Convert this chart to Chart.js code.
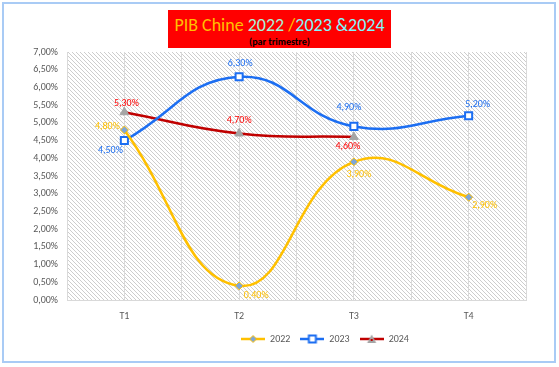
<!DOCTYPE html>
<html>
<head>
    <title>PIB Chine 2022 /2023 &2024</title>
    <script src="https://cdn.jsdelivr.net/npm/chart.js"></script>
    <style>
        body { margin: 0; background: #fff; }
        .wrap { position: relative; width: 559px; height: 367px; overflow: hidden; }
        .frame {
            position: absolute; left: 2px; top: 2px; width: 554px; height: 361px;
            box-sizing: border-box; border: 2px solid #a9cbf5; pointer-events: none;
        }
        .title {
            position: absolute; left: 168px; top: 10px; width: 223px; height: 38px;
            background: #ff0000; text-align: center; font-family: Carlito, Lato, sans-serif;
        }
        .title .main { font-size: 18px; line-height: 22px; padding-top: 4px; }
        .title .sub { font-size: 10px; font-weight: bold; color: #000; line-height: 11px; }
    </style>
</head>
<body>
<div class="wrap">
    <canvas id="gdpChart" width="559" height="367"></canvas>
    <div class="title">
        <div class="main"><span style="color:#ffc000">PIB Chine </span><span style="color:#a6f4dc">2022 </span><span style="color:#ffc000">/</span><span style="color:#7ff9ff">2023 &amp;2024</span></div>
        <div class="sub">(par trimestre)</div>
    </div>
    <div class="frame"></div>
</div>
<script>
    const quarters = ['T1', 'T2', 'T3', 'T4'];
    const gdp2022 = [4.8, 0.4, 3.9, 2.9];
    const gdp2023 = [4.5, 6.3, 4.9, 5.2];
    const gdp2024 = [5.3, 4.7, 4.6, null];

    const FONT = 'Carlito, Lato, sans-serif';

    // where each value label sits relative to its point (dx, dy)
    const labelOffsets = {
        '2022': [[-17, -3], [17, 10], [5, 13], [16, 8]],
        '2023': [[-14, 10], [1, -13], [-5, -19], [9, -11]],
        '2024': [[2, -9], [0, -13], [-6, 9], null]
    };

    function fmtPct(v) {
        return v.toFixed(2).replace('.', ',') + '%';
    }

    function toPoints(values) {
        return values.map((v, i) => ({ x: i + 1, y: v }));
    }

    function makeLegendIcon(color, draw) {
        const c = document.createElement('canvas');
        c.width = 24; c.height = 10;
        const ctx = c.getContext('2d');
        ctx.strokeStyle = color;
        ctx.lineWidth = 2.5;
        ctx.beginPath(); ctx.moveTo(0, 5); ctx.lineTo(24, 5); ctx.stroke();
        draw(ctx);
        return c;
    }

    const icons = {
        '2022': makeLegendIcon('#ffc000', ctx => {
            ctx.fillStyle = '#7ea6d8'; ctx.strokeStyle = '#ffc000'; ctx.lineWidth = 1;
            ctx.beginPath(); ctx.moveTo(12, 1.5); ctx.lineTo(15.5, 5); ctx.lineTo(12, 8.5); ctx.lineTo(8.5, 5); ctx.closePath();
            ctx.fill(); ctx.stroke();
        }),
        '2023': makeLegendIcon('#1c6ef2', ctx => {
            ctx.fillStyle = '#fff'; ctx.strokeStyle = '#1c6ef2'; ctx.lineWidth = 2;
            ctx.fillRect(8.5, 1.5, 7, 7); ctx.strokeRect(8.5, 1.5, 7, 7);
        }),
        '2024': makeLegendIcon('#c00000', ctx => {
            ctx.fillStyle = '#a5a5a5';
            ctx.beginPath(); ctx.moveTo(12, 0.5); ctx.lineTo(16.5, 9); ctx.lineTo(7.5, 9); ctx.closePath();
            ctx.fill();
            ctx.fillStyle = '#c00000'; ctx.fillRect(11, 5, 2, 2);
        })
    };

    function hatchPattern(ctx) {
        const c = document.createElement('canvas');
        c.width = 4; c.height = 4;
        const p = c.getContext('2d');
        p.fillStyle = '#fff';
        p.fillRect(0, 0, 4, 4);
        p.fillStyle = '#cdcdcd';
        for (let i = 0; i < 4; i++) p.fillRect(i, i, 1, 1);
        return ctx.createPattern(c, 'repeat');
    }

    const hatchBackground = {
        id: 'hatchBackground',
        beforeDraw(chart) {
            const { ctx, chartArea: a } = chart;
            ctx.save();
            ctx.fillStyle = hatchPattern(ctx);
            ctx.fillRect(a.left, a.top, a.right - a.left, a.bottom - a.top);
            ctx.restore();
        }
    };

    // Excel puts the legend a bit right of centre
    const legendShift = {
        id: 'legendShift',
        afterLayout(chart) {
            chart.legend.left += 62;
            chart.legend.right += 62;
        }
    };

    const valueLabels = {
        id: 'valueLabels',
        afterDatasetsDraw(chart) {
            const ctx = chart.ctx;
            ctx.save();
            ctx.font = '10px ' + FONT;
            ctx.textAlign = 'center';
            ctx.textBaseline = 'middle';
            chart.data.datasets.forEach((ds, di) => {
                const meta = chart.getDatasetMeta(di);
                const offs = labelOffsets[ds.label];
                ctx.fillStyle = ds.labelColor;
                meta.data.forEach((pt, i) => {
                    const v = ds.data[i].y;
                    if (v === null || !offs[i]) return;
                    ctx.fillText(fmtPct(v), pt.x + offs[i][0], pt.y + offs[i][1]);
                });
            });
            ctx.restore();
        }
    };

    const chart = new Chart(document.getElementById('gdpChart').getContext('2d'), {
        type: 'line',
        data: {
            datasets: [
                {
                    label: '2022', data: toPoints(gdp2022),
                    borderColor: '#ffc000', borderWidth: 2.5, tension: 0.45,
                    pointStyle: 'rectRot', pointRadius: 4, pointBackgroundColor: '#7ea6d8',
                    pointBorderColor: '#ffc000', pointBorderWidth: 1, labelColor: '#ffc000'
                },
                {
                    label: '2023', data: toPoints(gdp2023),
                    borderColor: '#1c6ef2', borderWidth: 2.5, tension: 0.45,
                    pointStyle: 'rect', pointRadius: 5, pointBackgroundColor: '#fff',
                    pointBorderColor: '#1c6ef2', pointBorderWidth: 2, labelColor: '#1c6ef2'
                },
                {
                    label: '2024', data: toPoints(gdp2024),
                    borderColor: '#c00000', borderWidth: 2.5, tension: 0.45,
                    pointStyle: 'triangle', pointRadius: 5, pointBackgroundColor: '#a5a5a5',
                    pointBorderColor: '#a5a5a5', pointBorderWidth: 1, labelColor: '#ff0000'
                }
            ]
        },
        options: {
            responsive: false,
            animation: false,
            layout: { padding: { top: 52, right: 33, bottom: 13, left: 0 } },
            scales: {
                x: {
                    type: 'linear', min: 0.5, max: 4.5,
                    grid: { color: '#d9d9d9', drawTicks: false },
                    border: { color: '#d9d9d9' },
                    ticks: {
                        stepSize: 0.5, autoSkip: false, padding: 10, color: '#595959',
                        font: { family: FONT, size: 10 },
                        callback: v => Number.isInteger(v) ? quarters[v - 1] : ''
                    },
                    afterFit: s => { s.height = 24; }
                },
                y: {
                    min: 0, max: 7,
                    grid: { display: false, drawTicks: false },
                    border: { display: false },
                    ticks: {
                        stepSize: 0.5, padding: 9, color: '#595959',
                        font: { family: FONT, size: 10 },
                        callback: v => fmtPct(v)
                    },
                    afterFit: s => { s.width = 67; }
                }
            },
            plugins: {
                title: { display: false },
                tooltip: { enabled: false },
                legend: {
                    position: 'bottom',
                    labels: {
                        usePointStyle: true, pointStyleWidth: 24, boxHeight: 10, padding: 10,
                        color: '#595959', font: { family: FONT, size: 10 },
                        generateLabels: c => {
                            const items = Chart.defaults.plugins.legend.labels.generateLabels(c);
                            items.forEach(it => { it.pointStyle = icons[it.text]; });
                            return items;
                        }
                    }
                }
            }
        },
        plugins: [hatchBackground, valueLabels, legendShift]
    });
</script>
</body>
</html>
